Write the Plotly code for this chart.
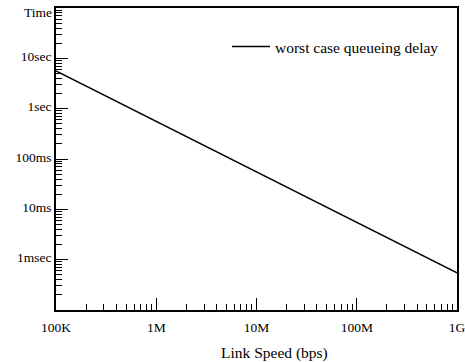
import plotly.graph_objects as go

speeds = [1e5, 1e6, 1e7, 1e8, 1e9]
delay_sec = [5.6, 0.56, 0.056, 0.0056, 0.00055]
series_name = "worst case queueing delay"

x_tickvals = [1e5, 1e6, 1e7, 1e8, 1e9]
x_ticktext = ["100K", "1M", "10M", "100M", "1G"]
y_tickvals = [1e-4, 1e-3, 1e-2, 1e-1, 1, 10, 100]
y_ticktext = ["", "1msec", "10ms", "100ms", "1sec", "10sec", ""]
x_title = "Link Speed (bps)"
y_title = "Time"

FONT = "Liberation Serif"

fig = go.Figure()
fig.add_trace(go.Scatter(x=speeds, y=delay_sec, mode="lines", name=series_name,
                         line=dict(color="black", width=1.5)))

axis_common = dict(type="log", showgrid=False, zeroline=False, showline=True,
                   linecolor="black", linewidth=1.5, mirror=True, automargin=False,
                   ticks="inside", ticklen=12, tickcolor="black", tickwidth=1,
                   tickmode="array", ticklabeloverflow="allow",
                   tickfont=dict(family=FONT, size=13.5, color="black"),
                   minor=dict(ticks="inside", ticklen=6, tickcolor="black",
                              tickwidth=1, dtick="D1", showgrid=False))

fig.update_xaxes(range=[5, 9], tickvals=x_tickvals, ticktext=x_ticktext,
                 ticklabelstandoff=4, **axis_common)
fig.update_yaxes(range=[-4, 2], tickvals=y_tickvals, ticktext=y_ticktext,
                 ticklabelstandoff=0, ticklabelshift=-2, **axis_common)

fig.add_annotation(text=x_title, xref="paper", yref="paper",
                   x=(274 - 56) / 401, y=-(353 - 310) / 302, xanchor="center", yanchor="middle",
                   showarrow=False, font=dict(family=FONT, size=15.5, color="black"))
fig.add_annotation(text=y_title, xref="paper", yref="paper",
                   x=-(56 - 52) / 401, y=1 - (13 - 8) / 302, xanchor="right", yanchor="middle",
                   showarrow=False, font=dict(family=FONT, size=13.5, color="black"),
                   xshift=2)

fig.update_layout(width=465, height=362, margin=dict(l=56, r=8, t=8, b=52),
                  plot_bgcolor="white", paper_bgcolor="white",
                  font=dict(family=FONT, size=14, color="black"),
                  showlegend=True,
                  legend=dict(x=(227 - 56) / 401, y=1 - (47 - 8) / 302, xanchor="left",
                              yanchor="middle", bgcolor="rgba(0,0,0,0)", itemwidth=38,
                              font=dict(family=FONT, size=15.5, color="black")))

fig.write_html("out.html", config={"displayModeBar": False},
               post_script="document.body.style.margin='0';")
